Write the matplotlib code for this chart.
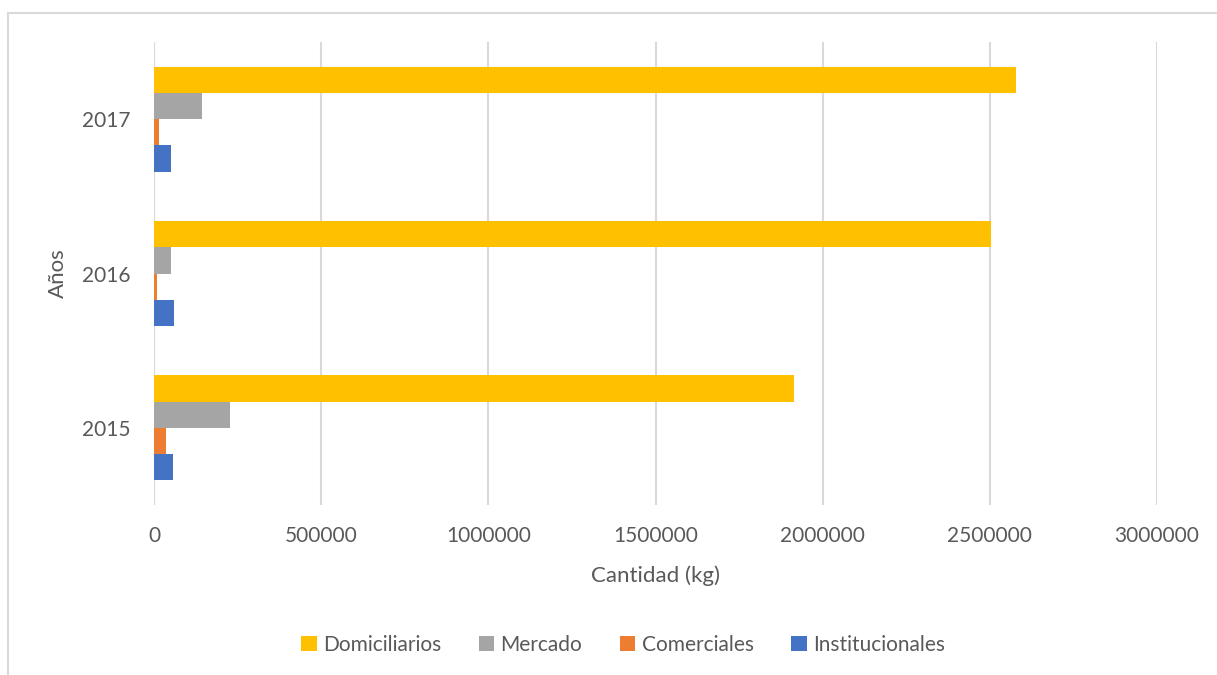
import numpy as np
import matplotlib.pyplot as plt
from matplotlib.patches import Rectangle

plt.rcParams['font.family'] = ['Lato', 'DejaVu Sans']

years = ['2015', '2016', '2017']
domiciliarios = [1913000, 2503000, 2578000]
mercado = [228000, 51000, 144000]
comerciales = [37000, 10000, 15000]
institucionales = [57000, 60000, 51000]

series = [
    ('Domiciliarios', domiciliarios, '#FFC000'),
    ('Mercado', mercado, '#A5A5A5'),
    ('Comerciales', comerciales, '#ED7D31'),
    ('Institucionales', institucionales, '#4472C4'),
]

txt = '#595959'
grid = '#D9D9D9'

fig = plt.figure(figsize=(12.17, 6.75), dpi=100)
ax = fig.add_axes([154/1217, 1-505/675, (1157-154)/1217, (505-42)/675])

y = np.arange(len(years))
h = 0.17
offsets = [1.5*h, 0.5*h, -0.5*h, -1.5*h]
for (name, vals, col), off in zip(series, offsets):
    ax.barh(y + off, vals, height=h, color=col, label=name, zorder=3)

ax.set_xlim(0, 3000000)
ax.set_ylim(-0.5, 2.5)
ax.set_xticks(np.arange(0, 3000001, 500000))
ax.set_xticklabels([str(v) for v in range(0, 3000001, 500000)])
ax.set_yticks(y)
ax.set_yticklabels(years)
ax.grid(axis='x', color=grid, linewidth=1.5, zorder=0)
for s in ax.spines.values():
    s.set_visible(False)
ax.tick_params(length=0, labelsize=15, colors=txt)
ax.tick_params(axis='x', pad=15)
ax.tick_params(axis='y', pad=17)
ax.set_xlabel('Cantidad (kg)', fontsize=16, color=txt, labelpad=14)
ax.set_ylabel('Años', fontsize=16, color=txt, labelpad=10)

ax.legend(loc='center', bbox_to_anchor=(623/1217, 1-645/675), bbox_transform=fig.transFigure,
          ncol=4, frameon=False, fontsize=15, labelcolor=txt, handlelength=0.75, handleheight=0.75,
          handletextpad=0.3, columnspacing=1.8)

fig.patches.append(Rectangle((8/1217, -0.1), 1.1, 1-13/675+0.1, transform=fig.transFigure,
                             fill=False, edgecolor=grid, linewidth=1.5))

fig.savefig('out.png', dpi=100)
